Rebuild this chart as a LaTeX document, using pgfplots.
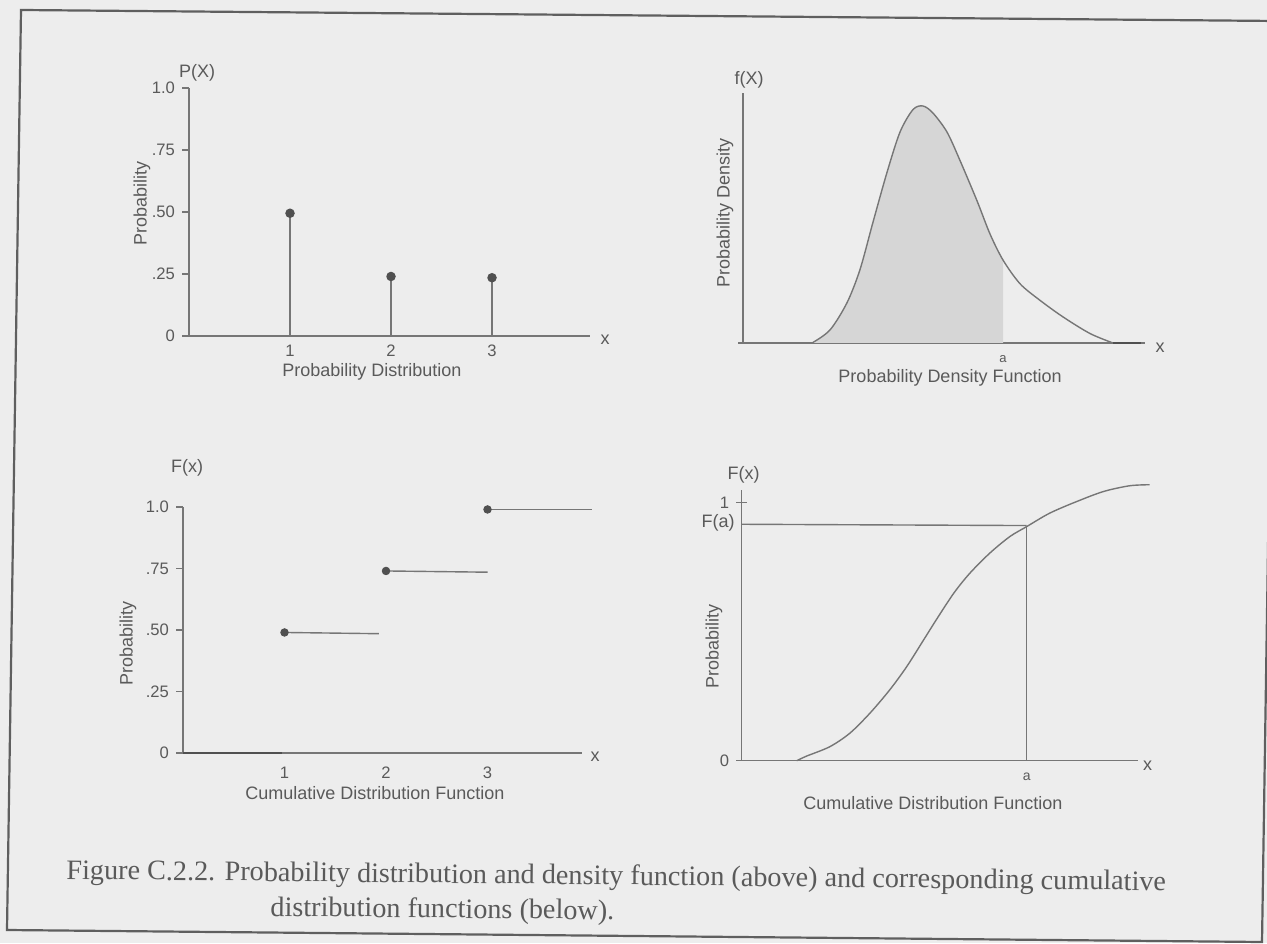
\documentclass[border=0pt]{standalone}
\usepackage{fontspec}
\setmainfont{Liberation Sans}
\newfontfamily\capfont{Liberation Serif}
\usepackage{pgfplots}
\usepackage{pgfplotstable}
\pgfplotsset{compat=1.18}

\definecolor{cbg}{RGB}{237,237,237}
\definecolor{cink}{RGB}{90,90,90}
\definecolor{clin}{RGB}{118,118,118}
\definecolor{cdot}{RGB}{80,80,80}
\definecolor{cshade}{RGB}{214,214,214}
\definecolor{cframe}{RGB}{95,95,95}

% probability density (top right)
\pgfplotstableread{
x y
0.69 0
0.87 0.055
1.04 0.17
1.17 0.31
1.30 0.51
1.44 0.72
1.57 0.89
1.70 0.985
1.80 1.0
1.90 0.97
2.04 0.89
2.17 0.77
2.34 0.60
2.47 0.46
2.60 0.35
2.77 0.25
2.97 0.18
3.20 0.11
3.47 0.04
3.70 0.0
}\pdfdata

% cumulative distribution (bottom right)
\pgfplotstableread{
x y
0.55 0.0
0.65 0.018
0.88 0.054
1.08 0.106
1.28 0.183
1.48 0.274
1.65 0.364
1.82 0.468
1.95 0.548
2.12 0.648
2.28 0.725
2.48 0.803
2.68 0.867
2.85 0.906
3.08 0.958
3.35 1.003
3.62 1.042
3.88 1.064
4.08 1.068
}\cdfdata

\newcommand{\lab}{\fontsize{9}{10.5}\selectfont}
\newcommand{\tlab}{\fontsize{8.3}{10}\selectfont}

\pgfplotsset{
  panel/.style={
    anchor=south west, axis lines*=left, clip=false,
    axis line style={clin, line width=0.7pt},
    every tick/.style={clin, line width=0.7pt},
    tick label style={font=\tlab, text=cink},
    label style={font=\lab, text=cink},
    /pgf/number format/assume math mode=true,
  },
}

\begin{document}
\begin{tikzpicture}
\begin{scope}[x=0.5pt,y=0.5pt]
\fill[cbg] (0,0) rectangle (1267,943);
\useasboundingbox (0,0) rectangle (1267,943);
\draw[cframe, line width=1.1pt] (21,933) -- (1276,922) -- (1262,1) -- (7,13) -- cycle;
\end{scope}

% ---------- top left: probability distribution  (origin at px 189,336)
\begin{axis}[panel, at={(94.5pt,303.5pt)}, x=50.5pt, y=124pt,
  xmin=0, xmax=3.97, ymin=0, ymax=1,
  xtick={1,2,3}, xtick style={draw=none}, xticklabel style={yshift=2.5pt},
  ytick={0,0.25,0.5,0.75,1}, yticklabels={0,.25,.50,.75,1.0},
  tick align=outside, major tick length=3.5pt,
  xlabel={Probability Distribution}, ylabel={Probability},
  xlabel style={at={(axis description cs:0.456,-0.145)}, anchor=center},
  ylabel style={at={(axis description cs:-0.117,0.536)}, anchor=center},
]
\addplot[ycomb, clin, line width=0.7pt, mark=*, mark size=2pt,
  mark options={draw=cdot, fill=cdot}] coordinates {(1,0.495) (2,0.24) (3,0.235)};
\node[font=\lab, text=cink] at (axis cs:0.08,1.06) {P(X)};
\node[font=\lab, text=cink] at (axis cs:4.12,-0.016) {x};
\end{axis}

% ---------- top right: probability density  (origin at px 743,343)
\begin{axis}[panel, at={(371.5pt,300pt)}, x=50pt, y=118.5pt,
  xmin=0, xmax=4.02, ymin=0, ymax=1.054,
  xtick={2.6}, xticklabels={a}, xtick style={draw=none},
  xticklabel style={font=\fontsize{6.5}{7}\selectfont},
  ytick={0}, yticklabels={}, tick align=center, major tick length=5pt,
  xlabel={Probability Density Function}, ylabel={Probability Density},
  xlabel style={at={(axis description cs:0.515,-0.14)}, anchor=center},
  ylabel style={at={(axis description cs:-0.045,0.52)}, anchor=center},
]
\addplot[fill=cshade, draw=none, smooth, restrict x to domain=0:2.6] table {\pdfdata} \closedcycle;
\addplot[clin, line width=0.7pt, smooth] table {\pdfdata};
\addplot[cdot, line width=1pt] coordinates {(3.70,0) (3.98,0)};
\node[font=\lab, text=cink] at (axis cs:0.06,1.11) {f(X)};
\node[font=\lab, text=cink] at (axis cs:4.17,-0.02) {x};
\end{axis}

% ---------- bottom left: cumulative step function  (origin at px 183,753)
\begin{axis}[panel, at={(91.5pt,95pt)}, x=50.75pt, y=123pt,
  xmin=0, xmax=3.93, ymin=0, ymax=1,
  xtick={1,2,3}, xtick style={draw=none},
  ytick={0,0.25,0.5,0.75,1}, yticklabels={0,.25,.50,.75,1.0},
  tick align=outside, major tick length=3.5pt,
  xlabel={Cumulative Distribution Function}, ylabel={Probability},
  xlabel style={at={(axis description cs:0.481,-0.163)}, anchor=center},
  ylabel style={at={(axis description cs:-0.138,0.447)}, anchor=center},
]
\addplot[cdot, line width=1pt] coordinates {(0,0) (0.98,0)};
\addplot[clin, line width=0.7pt] coordinates {(1,0.49) (1.93,0.485)};
\addplot[clin, line width=0.7pt] coordinates {(2,0.74) (3,0.735)};
\addplot[clin, line width=0.7pt] coordinates {(3,0.99) (4.03,0.99)};
\addplot[only marks, mark=*, mark size=1.9pt, draw=cdot, fill=cdot]
  coordinates {(1,0.49) (2,0.74) (3,0.99)};
\node[font=\lab, text=cink] at (axis cs:0.04,1.16) {F(x)};
\node[font=\lab, text=cink] at (axis cs:4.06,-0.015) {x};
\end{axis}

% ---------- bottom right: cumulative continuous  (origin at px 741.7,760.7)
\begin{axis}[panel, at={(370.85pt,91.15pt)}, x=50pt, y=129.2pt,
  xmin=0, xmax=3.96, ymin=0, ymax=1.048,
  xtick={2.85}, xticklabels={a}, xtick style={draw=none},
  xticklabel style={font=\fontsize{7}{8}\selectfont},
  ytick={0,1}, yticklabels={0,1}, tick align=center, major tick length=5.5pt,
  xlabel={Cumulative Distribution Function}, ylabel={Probability},
  xlabel style={at={(axis description cs:0.483,-0.156)}, anchor=center},
  ylabel style={at={(axis description cs:-0.07,0.42)}, anchor=center},
]
\addplot[clin, line width=0.7pt] coordinates {(0,0.915) (2.85,0.91)};
\addplot[clin, line width=0.7pt] coordinates {(2.85,0) (2.85,0.91)};
\addplot[clin, line width=0.7pt, smooth] table {\cdfdata};
\node[font=\lab, text=cink] at (axis cs:-0.237,0.92) {F(a)};
\node[font=\lab, text=cink] at (axis cs:0.02,1.105) {F(x)};
\node[font=\lab, text=cink] at (axis cs:4.06,-0.02) {x};
\end{axis}

% ---------- caption
\begin{scope}[x=0.5pt,y=0.5pt]
\node[anchor=base west, rotate=-0.6, inner sep=0, text=cink,
  font=\capfont\fontsize{14.1}{16}\selectfont] at (66,64)
  {Figure C.2.2. Probability distribution and density function (above) and corresponding cumulative};
\node[anchor=base west, rotate=-0.6, inner sep=0, text=cink,
  font=\capfont\fontsize{14.1}{16}\selectfont] at (270,27)
  {distribution functions (below).};
\end{scope}
\end{tikzpicture}
\end{document}
